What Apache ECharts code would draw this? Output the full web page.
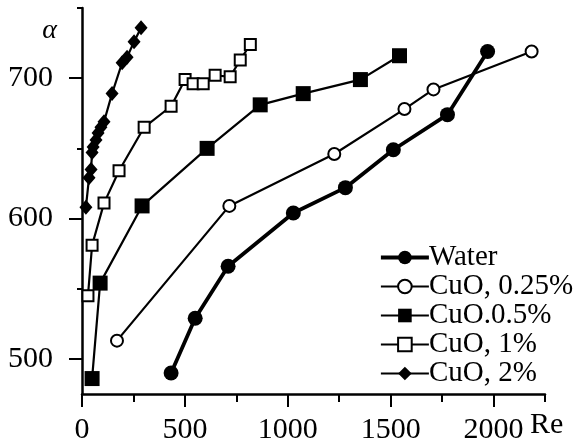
<!DOCTYPE html>
<html>
<head>
<meta charset="utf-8">
<script src="https://cdn.jsdelivr.net/npm/echarts@6/dist/echarts.min.js"></script>
<style>
  html, body { margin: 0; padding: 0; background: #fff; }
  #chart { width: 582px; height: 445px; }
</style>
</head>
<body>
<div id="chart"></div>
<script>
// Heat transfer coefficient α versus Reynolds number for water and CuO nanofluids
const seriesNames = ['Water', 'CuO, 0.25%', 'CuO.0.5%', 'CuO, 1%', 'CuO, 2%'];

const reWater = [433, 550, 710, 1027, 1280, 1513, 1776, 1971];
const alphaWater = [490, 529, 566, 604, 622, 649, 674, 719];

const re025 = [170, 716, 1226, 1567, 1708, 2185];
const alpha025 = [513, 609, 646, 678, 692, 719];

const re05 = [49, 88, 292, 608, 866, 1075, 1353, 1543];
const alpha05 = [486, 554, 609, 650, 681, 689, 699, 716];

const re1 = [29, 49, 107, 180, 302, 433, 501, 540, 589, 647, 720, 769, 818];
const alpha1 = [545, 581, 611, 634, 665, 680, 699, 696, 696, 702, 701, 713, 724];

const re2 = [19, 34, 44, 49, 54, 68, 78, 92, 107, 146, 195, 219, 253, 287];
const alpha2 = [608, 629, 635, 647, 651, 656, 661, 665, 669, 689, 711, 715, 726, 736];

// Axis ticks
const xMajorTicks = [0, 500, 1000, 1500, 2000];
const xMinorTicks = [250, 750, 1250, 1750, 2250];
const yMajorTicks = [500, 600, 700];
const yMinorTicks = [550, 650, 750];

const FONT = '"Liberation Serif", "Times New Roman", serif';

function pairs(xs, ys) {
  return xs.map((x, i) => [x, ys[i]]);
}

function lineSeries(name, xs, ys, symbol, size, filled, width) {
  return {
    name: name,
    type: 'line',
    xAxisIndex: 0,
    yAxisIndex: 0,
    data: pairs(xs, ys),
    symbol: symbol,
    symbolSize: size,
    showAllSymbol: true,
    lineStyle: { color: '#000', width: width },
    itemStyle: filled
      ? { color: '#000', borderColor: '#000', borderWidth: 0 }
      : { color: '#fff', borderColor: '#000', borderWidth: 2 },
    emphasis: { disabled: true },
    animation: false,
    z: 3
  };
}

const chart = echarts.init(document.getElementById('chart'), null, { renderer: 'canvas' });

const axisLineStyle = { color: '#000', width: 2.5 };
const plain = v => String(v);

chart.setOption({
  backgroundColor: '#fff',
  animation: false,
  grid: { left: 82, right: 37, top: 8, bottom: 51, outerBoundsMode: 'none' },
  legend: {
    orient: 'vertical',
    left: 379,
    top: 243,
    itemGap: 0,
    itemWidth: 48,
    itemHeight: 17,
    padding: 0,
    selectedMode: false,
    data: seriesNames,
    lineStyle: { width: 'inherit' },
    textStyle: { fontFamily: FONT, fontSize: 29, color: '#000', lineHeight: 27, padding: [0, 0, 0, -5] }
  },
  xAxis: [
    {
      type: 'value',
      min: 0,
      max: 2250,
      position: 'bottom',
      name: 'Re',
      nameLocation: 'end',
      nameGap: -15,
      nameTextStyle: { fontFamily: FONT, fontSize: 30, color: '#000', align: 'left', verticalAlign: 'top', padding: [16, 0, 0, 0] },
      axisLine: { show: true, lineStyle: axisLineStyle },
      axisTick: { show: true, inside: false, length: 13, customValues: xMajorTicks, lineStyle: { color: '#000', width: 2 } },
      axisLabel: { show: true, customValues: xMajorTicks, formatter: plain, margin: 21, fontFamily: FONT, fontSize: 30, color: '#000' },
      splitLine: { show: false }
    },
    {
      type: 'value',
      min: 0,
      max: 2250,
      position: 'bottom',
      axisLine: { show: false },
      axisTick: { show: true, inside: false, length: 8, customValues: xMinorTicks, lineStyle: { color: '#000', width: 2 } },
      axisLabel: { show: false },
      splitLine: { show: false }
    }
  ],
  yAxis: [
    {
      type: 'value',
      min: 475,
      max: 750,
      position: 'left',
      name: 'α',
      nameLocation: 'end',
      nameGap: -23,
      nameTextStyle: { fontFamily: FONT, fontSize: 28, fontStyle: 'italic', color: '#000', align: 'right', verticalAlign: 'middle', padding: [0, 25, 0, 0] },
      axisLine: { show: true, lineStyle: axisLineStyle },
      axisTick: { show: true, inside: false, length: 13, customValues: yMajorTicks, lineStyle: { color: '#000', width: 2 } },
      axisLabel: { show: true, customValues: yMajorTicks, formatter: plain, margin: 29, fontFamily: FONT, fontSize: 30, color: '#000' },
      splitLine: { show: false }
    },
    {
      type: 'value',
      min: 475,
      max: 750,
      position: 'left',
      axisLine: { show: false },
      axisTick: { show: true, inside: false, length: 5, customValues: yMinorTicks, lineStyle: { color: '#000', width: 2 } },
      axisLabel: { show: false },
      splitLine: { show: false }
    }
  ],
  series: [
    lineSeries(seriesNames[0], reWater, alphaWater, 'circle', 15, true, 3.8),
    lineSeries(seriesNames[1], re025, alpha025, 'circle', 12, false, 2.2),
    lineSeries(seriesNames[2], re05, alpha05, 'rect', 15, true, 2.2),
    lineSeries(seriesNames[3], re1, alpha1, 'rect', 11, false, 2.2),
    lineSeries(seriesNames[4], re2, alpha2, 'diamond', [13, 15], true, 2.2)
  ]
});
</script>
</body>
</html>
